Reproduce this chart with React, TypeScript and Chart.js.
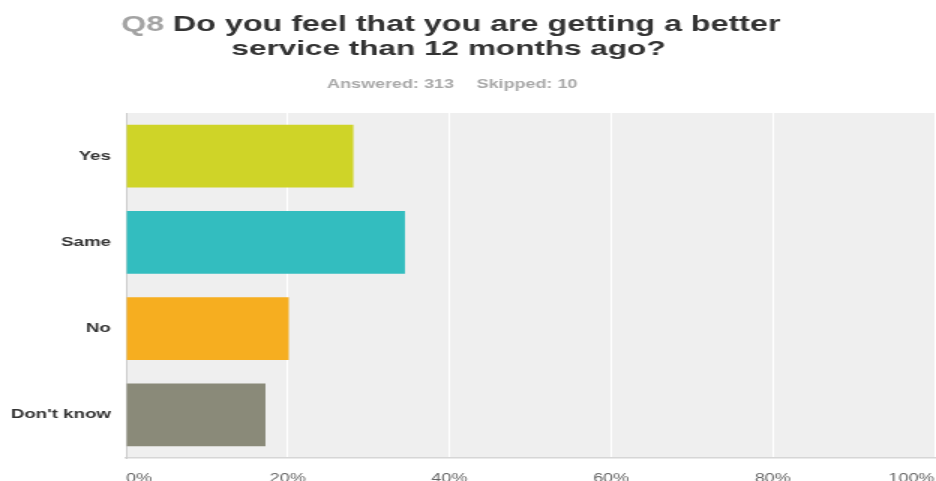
import React, { useEffect, useRef } from "react";
import { Chart, registerables } from "chart.js";

Chart.register(...registerables);

// ---- data ----
const categories = ["Yes", "Same", "No", "Don't know"];
const percentages = [28.12, 34.5, 20.13, 17.25];
const barColors = ["#cfd428", "#33bdbf", "#f6ae20", "#8a8a79"];
const xTicks = [0, 20, 40, 60, 80, 100];
const titlePrefix = "Q8";
const titleLines = [
  "Do you feel that you are getting a better",
  "service than 12 months ago?",
];
const answered = 313;
const skipped = 10;

// ---- layout (logical canvas is stretched horizontally like the reference) ----
const W = 936;
const H = 481;
const STRETCH = 1.5;
const LW = W / STRETCH; // 624
const LH = 490;
const FONT = '"Liberation Sans", Arial, Helvetica, sans-serif';

const plotBgPlugin = {
  id: "plotBg",
  beforeDraw(chart: any) {
    const { ctx, chartArea: a } = chart;
    ctx.save();
    ctx.fillStyle = "#efefef";
    ctx.fillRect(a.left, a.top, a.right - a.left, a.bottom - a.top);
    ctx.restore();
  },
};

const headerPlugin = {
  id: "header",
  afterDraw(chart: any) {
    const ctx = chart.ctx;
    const cx = 300.5;
    ctx.save();
    ctx.textBaseline = "alphabetic";
    ctx.font = `bold 21.5px ${FONT}`;
    const pre = titlePrefix + " ";
    const wPre = ctx.measureText(pre).width;
    const wMain = ctx.measureText(titleLines[0]).width;
    const x0 = cx - (wPre + wMain) / 2;
    ctx.textAlign = "left";
    ctx.fillStyle = "#a3a3a3";
    ctx.fillText(pre, x0, 31);
    ctx.fillStyle = "#333333";
    ctx.fillText(titleLines[0], x0 + wPre, 31);
    ctx.textAlign = "center";
    ctx.font = `bold 21px ${FONT}`;
    ctx.fillText(titleLines[1], cx - 1.5, 55);

    ctx.font = `bold 12px ${FONT}`;
    const s1 = `Answered: ${answered}`;
    const s2 = `Skipped: ${skipped}`;
    const gap = 15;
    const w1 = ctx.measureText(s1).width;
    const w2 = ctx.measureText(s2).width;
    const sx = 301.5 - (w1 + gap + w2) / 2;
    ctx.textAlign = "left";
    ctx.fillStyle = "#a8a8a8";
    ctx.fillText(s1, sx, 88);
    ctx.fillText(s2, sx + w1 + gap, 88);
    ctx.restore();
  },
};

export default function App() {
  const ref = useRef<HTMLCanvasElement | null>(null);

  useEffect(() => {
    const canvas = ref.current;
    if (!canvas) return;
    const chart = new Chart(canvas, {
      type: "bar",
      data: {
        labels: categories,
        datasets: [
          {
            data: percentages,
            backgroundColor: barColors,
            borderWidth: 0,
            barPercentage: 0.73,
            categoryPercentage: 1,
          },
        ],
      },
      options: {
        indexAxis: "y",
        responsive: false,
        animation: false,
        devicePixelRatio: 1,
        layout: { padding: { top: 113, right: 1, left: 0, bottom: 0 } },
        plugins: {
          legend: { display: false },
          tooltip: { enabled: false },
          title: { display: false },
        },
        scales: {
          x: {
            min: 0,
            max: 100,
            afterBuildTicks: (s: any) => {
              s.ticks = xTicks.map((v) => ({ value: v }));
            },
            ticks: {
              callback: (v: any) => v + "%",
              align: "inner",
              padding: 13,
              color: "#666666",
              font: { family: FONT, size: 12 },
              maxRotation: 0,
            },
            grid: {
              color: (c: any) => (c.index === 0 ? "rgba(0,0,0,0)" : "#ffffff"),
              lineWidth: 1,
              drawTicks: false,
            },
            border: { display: true, color: "#d6d6d6", width: 1.5 },
            afterFit: (s: any) => {
              s.height = LH - 458;
              s.paddingLeft = 0;
              s.paddingRight = 0;
            },
          },
          y: {
            ticks: {
              color: "#333333",
              font: { family: FONT, size: 12.5, weight: "bold" },
              padding: 10,
            },
            grid: { display: false, drawTicks: false },
            border: { display: true, color: "#cccccc", width: 1 },
            afterFit: (s: any) => {
              s.width = 84;
            },
          },
        },
      } as any,
      plugins: [plotBgPlugin, headerPlugin],
    });
    return () => chart.destroy();
  }, []);

  return (
    <div
      style={{
        position: "fixed",
        left: 0,
        top: 0,
        width: W,
        height: H,
        overflow: "hidden",
        background: "#ffffff",
      }}
    >
      <canvas
        ref={ref}
        width={LW}
        height={LH}
        style={{ width: `${W}px`, height: `${LH}px`, display: "block" }}
      />
    </div>
  );
}
